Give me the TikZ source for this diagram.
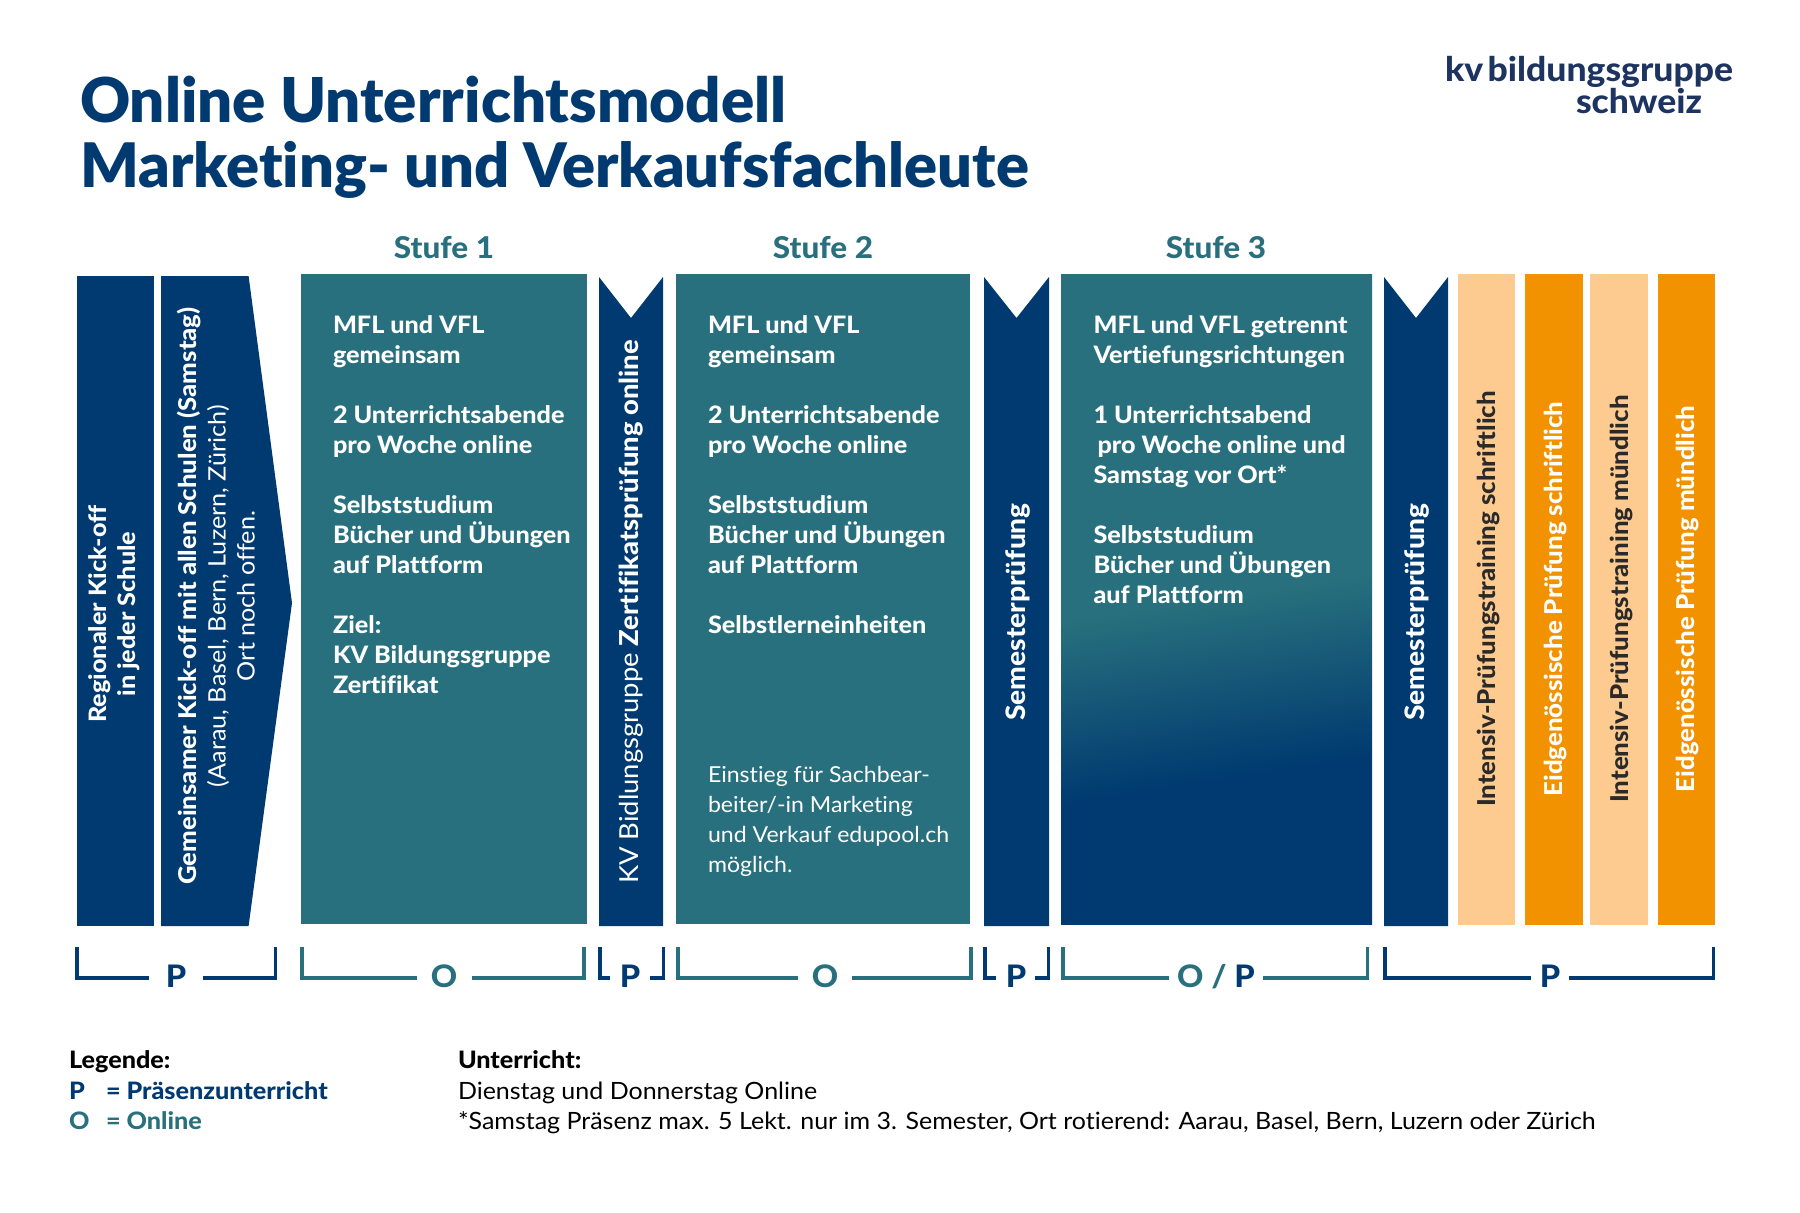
\documentclass[tikz,border=0pt]{standalone}
\usepackage{fontspec}
\setmainfont{Lato}[BoldFont={Lato Heavy},FakeStretch=1.05,Ligatures=CommonOff]
\newfontfamily\blackfont{Lato Black}[Ligatures=CommonOff]
\definecolor{kvnavy}{HTML}{003A70}
\definecolor{kvteal}{HTML}{28707D}
\definecolor{kvorange}{HTML}{F39200}
\definecolor{kvpeach}{HTML}{FDCB8F}
\definecolor{kvlogo}{HTML}{1D3461}
\definecolor{kvdark}{HTML}{2A2A2A}
\pgfdeclareverticalshading{stufefade}{100bp}{color(0bp)=(kvnavy); color(45bp)=(kvnavy); color(55bp)=(kvteal); color(100bp)=(kvteal)}
\begin{document}
\begin{tikzpicture}[x=0.5pt,y=-0.5pt,
        every node/.style={inner sep=0,outer sep=0},
        bodytext/.style={anchor=north west,align=left,text=white,font=\fontsize{12}{15}\selectfont\bfseries},
        smalltext/.style={anchor=north west,align=left,text=white,font=\fontsize{11}{15}\selectfont},
        sidetext/.style={rotate=90,align=center,text=white,font=\fontsize{12}{14.5}\selectfont},
        sidebold/.style={rotate=90,align=center,text=white,font=\fontsize{12}{14.5}\selectfont\bfseries},
        examtext/.style={rotate=90,text=white,font=\fontsize{12.3}{15}\selectfont\bfseries},
        stufetext/.style={anchor=base,text=kvteal,font=\fontsize{15}{18}\selectfont\bfseries},
        lettertext/.style={anchor=base,font=\fontsize{15.5}{18}\selectfont\bfseries},
        legendtext/.style={anchor=base west,font=\fontsize{11.9}{15}\selectfont},
        legendbold/.style={anchor=base west,font=\fontsize{12}{15}\selectfont\bfseries},
        bracket/.style={draw,line width=1.6pt}]
      \useasboundingbox (0,0) rectangle (1800,1212);

      % title and logo
      \node[anchor=base west,text=kvnavy,font=\fontsize{30.9}{34}\blackfont] (titleA) at (80,122) {Online Unterrichtsmodell};
      \node[anchor=base west,text=kvnavy,font=\fontsize{30.7}{34}\blackfont] (titleB) at (80,187) {Marketing- und Verkaufsfachleute};
      \node[anchor=base west,text=kvlogo,font=\fontsize{16.9}{18}\selectfont\bfseries] (logoA) at (1445,81) {kv\hspace{-2pt} bildungsgruppe};
      \node[anchor=base west,text=kvlogo,font=\fontsize{16.9}{18}\selectfont\bfseries] (logoB) at (1576,113) {schweiz};

      % kick-off
      \fill[kvnavy] (77,276) rectangle (154,926);
      \fill[kvnavy] (161,276) -- (248.6,276) -- (292,603) -- (248.6,926) -- (161,926) -- cycle;
      \node[sidebold] (kickA) at (114,614) {Regionaler Kick-off\\in jeder Schule};
      \node[sidetext] (kickB) at (216,596) {{\fontsize{12.25}{14.5}\selectfont\bfseries Gemeinsamer Kick-off mit allen Schulen (Samstag)}\\(Aarau, Basel, Bern, Luzern, Zürich)\\Ort noch offen.};

      % stufen
      \fill[kvteal] (301,274) rectangle (587,924);
      \fill[kvteal] (676,274) rectangle (970,924);
      \begin{scope}
        \clip (1061,274) rectangle (1372,924);
        \shade[shading=stufefade,shading angle=9] (766,239) rectangle (1666,1139);
      \end{scope}
      \node[stufetext] (stufeA) at (444,258) {Stufe 1};
      \node[stufetext] (stufeB) at (823,258) {Stufe 2};
      \node[stufetext] (stufeC) at (1216,258) {Stufe 3};

      \node[bodytext] (textA) at (333,316) {MFL und VFL\\gemeinsam\\[15pt]2 Unterrichtsabende\\pro Woche online\\[15pt]Selbststudium\\Bücher und Übungen\\auf Plattform\\[15pt]Ziel:\\KV Bildungsgruppe\\Zertifikat};
      \node[bodytext] (textB) at (708,316) {MFL und VFL\\gemeinsam\\[15pt]2 Unterrichtsabende\\pro Woche online\\[15pt]Selbststudium\\Bücher und Übungen\\auf Plattform\\[15pt]Selbstlerneinheiten};
      \node[smalltext] (textBB) at (708,766) {Einstieg für Sachbear-\\beiter/-in Marketing\\und Verkauf edupool.ch\\möglich.};
      \node[bodytext] (textC) at (1093.5,316) {MFL und VFL getrennt\\Vertiefungsrichtungen\\[15pt]1 Unterrichtsabend\\\hspace{2pt}pro Woche online und\\Samstag vor Ort*\\[15pt]Selbststudium\\Bücher und Übungen\\auf Plattform};

      % pruefungen
      \fill[kvnavy] (599,277) -- (631,318) -- (663,277) -- (663,926) -- (599,926) -- cycle;
      \fill[kvnavy] (984,277) -- (1016.5,318) -- (1049,277) -- (1049,926) -- (984,926) -- cycle;
      \fill[kvnavy] (1384,277) -- (1416,318) -- (1448,277) -- (1448,926) -- (1384,926) -- cycle;
      \node[sidetext,font=\fontsize{13.05}{15}\selectfont] (zert) at (631,612) {KV Bidlungsgruppe \textbf{Zertifikatsprüfung online}};
      \node[sidebold,font=\fontsize{13.4}{15}\selectfont\bfseries] (semA) at (1018,612) {Semesterprüfung};
      \node[sidebold,font=\fontsize{13.4}{15}\selectfont\bfseries] (semB) at (1417,612) {Semesterprüfung};

      % abschluss
      \fill[kvpeach] (1457.5,274) rectangle (1515,925);
      \fill[kvorange] (1525,274) rectangle (1582.5,925);
      \fill[kvpeach] (1590,274) rectangle (1648,925);
      \fill[kvorange] (1658,274) rectangle (1715,925);
      \node[examtext,text=kvdark] (trainA) at (1488.5,599) {Intensiv-Prüfungstraining schriftlich};
      \node[examtext] (eidgA) at (1555.5,599) {Eidgenössische Prüfung schriftlich};
      \node[examtext,text=kvdark] (trainB) at (1621.5,599) {Intensiv-Prüfungstraining mündlich};
      \node[examtext] (eidgB) at (1687.5,599) {Eidgenössische Prüfung mündlich};

      % klammern
      \draw[bracket,kvnavy] (77,947) |- (149,978) (203,978) -| (275.5,947);
      \draw[bracket,kvteal] (302,947) |- (417,978) (472,978) -| (584,947);
      \draw[bracket,kvnavy] (600,947) |- (610,978) (650,978) -| (663.5,947);
      \draw[bracket,kvteal] (678,947) |- (798,978) (852,978) -| (971,947);
      \draw[bracket,kvnavy] (985,947) |- (996,978) (1035,978) -| (1048.5,947);
      \draw[bracket,kvteal] (1063,947) |- (1169,978) (1263,978) -| (1367.5,947);
      \draw[bracket,kvnavy] (1385,947) |- (1531,978) (1569,978) -| (1713.5,947);
      \node[lettertext,text=kvnavy] (markA) at (176,987) {P};
      \node[lettertext,text=kvteal] (markB) at (444,987) {O};
      \node[lettertext,text=kvnavy] (markC) at (630,987) {P};
      \node[lettertext,text=kvteal] (markD) at (825,987) {O};
      \node[lettertext,text=kvnavy] (markE) at (1016,987) {P};
      \node[lettertext,text=kvteal] (markF) at (1216,987) {O / \textcolor{kvnavy}{P}};
      \node[lettertext,text=kvnavy] (markG) at (1550,987) {P};

      % legende
      \node[legendbold] (legA) at (69,1068) {Legende:};
      \node[legendbold,text=kvnavy] (legB) at (69,1099) {P};
      \node[legendbold,text=kvnavy] (legBB) at (106,1099) {= Präsenzunterricht};
      \node[legendbold,text=kvteal] (legC) at (69,1129) {O};
      \node[legendbold,text=kvteal] (legCC) at (106,1129) {= Online};
      \node[legendbold] (untA) at (458,1068) {Unterricht:};
      \node[legendtext] (untB) at (458,1099) {Dienstag und Donnerstag Online};
      \node[legendtext] (untC) at (458,1129) {*Samstag Präsenz max. 5 Lekt. nur im 3. Semester, Ort rotierend: Aarau, Basel, Bern, Luzern oder Zürich};
\end{tikzpicture}
\end{document}
